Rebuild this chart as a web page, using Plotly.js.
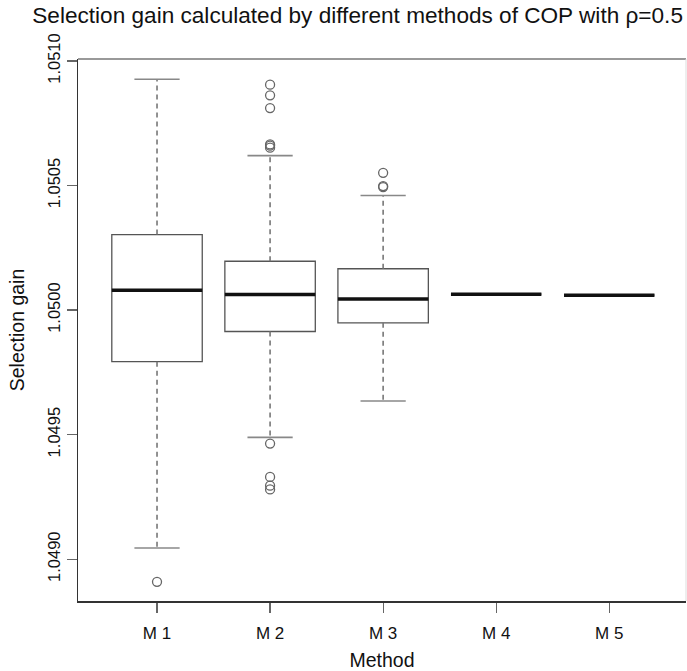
<!DOCTYPE html>
<html>
<head>
<meta charset="utf-8">
<script src="https://cdn.plot.ly/plotly-3.0.1.min.js"></script>
<style>html,body{margin:0;padding:0;background:#fff;}#chart{width:687px;height:671px;}</style>
</head>
<body>
<div id="chart"></div>
<script>
// ---- data ----
var categories = ['M 1', 'M 2', 'M 3', 'M 4', 'M 5'];
var positions = [1, 2, 3, 4, 5];
var q1 = [1.049793, 1.049914, 1.049949, 1.050064, 1.050060];
var medians = [1.050080, 1.050063, 1.050044, 1.050064, 1.050060];
var q3 = [1.050303, 1.050196, 1.050166, 1.050064, 1.050060];
var lowerWhisker = [1.049045, 1.049489, 1.049635, 1.050064, 1.050060];
var upperWhisker = [1.050927, 1.050620, 1.050460, 1.050064, 1.050060];
var outliersM1 = [1.048909];
var outliersM2 = [1.050905, 1.050862, 1.050811, 1.050665, 1.050660, 1.050652, 1.049464, 1.049330, 1.049295, 1.049280];
var outliersM3 = [1.050551, 1.050498, 1.050494];
var outliersM4 = [];
var outliersM5 = [];
var yTickVals = [1.0490, 1.0495, 1.0500, 1.0505, 1.0510];

var outlierSets = [outliersM1, outliersM2, outliersM3, outliersM4, outliersM5];
var boxWidth = 0.8, stapleHalf = 0.2;

// whiskers (dashed) and staples from data
var wx = [], wy = [], sx = [], sy = [], mx = [], my = [];
for (var i = 0; i < positions.length; i++) {
  var p = positions[i];
  if (upperWhisker[i] > q3[i]) {
    wx.push(p, p, null); wy.push(q3[i], upperWhisker[i], null);
    sx.push(p - stapleHalf, p + stapleHalf, null); sy.push(upperWhisker[i], upperWhisker[i], null);
  }
  if (lowerWhisker[i] < q1[i]) {
    wx.push(p, p, null); wy.push(q1[i], lowerWhisker[i], null);
    sx.push(p - stapleHalf, p + stapleHalf, null); sy.push(lowerWhisker[i], lowerWhisker[i], null);
  }
  mx.push(p - boxWidth / 2, p + boxWidth / 2, null); my.push(medians[i], medians[i], null);
}
var ox = [], oy = [];
outlierSets.forEach(function (s, i) { s.forEach(function (v) { ox.push(positions[i]); oy.push(v); }); });

var traces = [
  { type: 'scatter', mode: 'lines', x: wx, y: wy, hoverinfo: 'skip',
    line: { color: '#777', width: 1.6, dash: '5px,4px' }, showlegend: false },
  { type: 'scatter', mode: 'lines', x: sx, y: sy, hoverinfo: 'skip',
    line: { color: '#888', width: 1.6 }, showlegend: false },
  { type: 'box', x: positions, q1: q1, median: medians, q3: q3,
    lowerfence: q1, upperfence: q3, width: boxWidth, whiskerwidth: 0,
    fillcolor: '#ffffff', line: { color: '#555', width: 1.3 }, boxpoints: false, showlegend: false },
  { type: 'scatter', mode: 'lines', x: mx, y: my, hoverinfo: 'skip',
    line: { color: '#111', width: 3.5 }, showlegend: false },
  { type: 'scatter', mode: 'markers', x: ox, y: oy,
    marker: { symbol: 'circle-open', size: 9, color: '#666', line: { width: 1.3, color: '#666' } }, showlegend: false }
];

var layout = {
  width: 687, height: 671,
  margin: { l: 78, r: 1, t: 59, b: 70 },
  paper_bgcolor: '#fff', plot_bgcolor: '#fff',
  font: { family: 'Liberation Sans, Arial, sans-serif', color: '#111' },
  title: { text: 'Selection gain calculated by different methods of COP with ρ=0.5',
    font: { size: 22.6, color: '#111' }, x: 0.047, xanchor: 'left', xref: 'container',
    y: 1 - 15 / 671, yanchor: 'middle', yref: 'container' },
  xaxis: {
    range: [0.301, 5.679], tickvals: positions, ticktext: categories,
    showgrid: false, zeroline: false, showline: true, linecolor: '#333', linewidth: 1.5,
    ticks: 'outside', ticklen: 10, tickcolor: '#666', tickwidth: 1.2, ticklabelstandoff: 6,
    tickfont: { size: 17, color: '#111' },
    title: { text: 'Method', font: { size: 19.5, color: '#111' }, standoff: 14 }
  },
  yaxis: {
    range: [1.048832, 1.051008], tickvals: yTickVals, tickformat: '.4f',
    showgrid: false, zeroline: false, showline: true, linecolor: '#333', linewidth: 1.5,
    ticks: 'outside', ticklen: 10, tickcolor: '#666', tickwidth: 1.2, tickangle: -90,
    tickfont: { size: 16.5, color: '#111' },
    title: { text: 'Selection gain', font: { size: 19.5, color: '#111' }, standoff: 15 }
  },
  shapes: [
    { type: 'line', xref: 'paper', yref: 'paper', x0: 0, x1: 1, y0: 1, y1: 1, line: { color: '#999', width: 2 } },
    { type: 'line', xref: 'paper', yref: 'paper', x0: 1, x1: 1, y0: 0, y1: 1, line: { color: '#ddd', width: 1 } }
  ]
};

Plotly.newPlot('chart', traces, layout, { displayModeBar: false, staticPlot: true });
</script>
</body>
</html>
